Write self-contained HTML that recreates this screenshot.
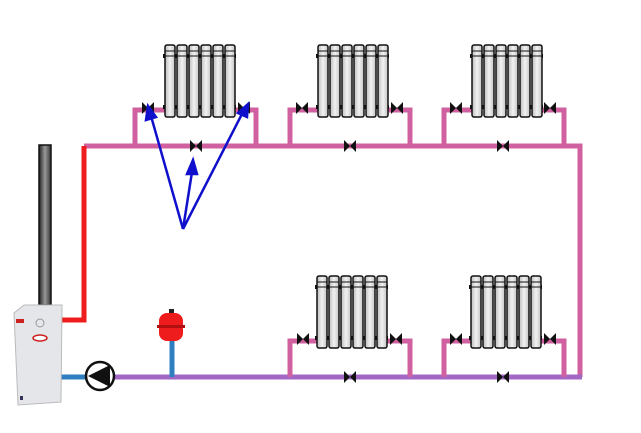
<!DOCTYPE html>
<html><head><style>body{margin:0;background:#fff}svg{display:block}</style></head>
<body>
<svg width="641" height="433" viewBox="0 0 641 433" xmlns="http://www.w3.org/2000/svg">
<defs>
<linearGradient id="sg" x1="0" x2="1"><stop offset="0" stop-color="#bbb"/><stop offset="0.5" stop-color="#f2f2f2"/><stop offset="1" stop-color="#c4c4c4"/></linearGradient>
<linearGradient id="ch" x1="0" x2="1"><stop offset="0" stop-color="#222"/><stop offset="0.5" stop-color="#999"/><stop offset="1" stop-color="#333"/></linearGradient>
<g id="sec"><rect x="0" y="0" width="10" height="72" rx="2" fill="url(#sg)" stroke="#111" stroke-width="1.5"/><line x1="0" y1="6" x2="10" y2="6" stroke="#111"/><line x1="0" y1="11" x2="10" y2="11" stroke="#111"/></g>
<g id="rad"><rect x="-2" y="9" width="73" height="4" fill="#111"/><rect x="-2" y="60" width="73" height="4" fill="#111"/>
<use href="#sec" x="0"/><use href="#sec" x="12"/><use href="#sec" x="24"/><use href="#sec" x="36"/><use href="#sec" x="48"/><use href="#sec" x="60"/></g>
<g id="v"><path d="M-6,-6 L6,6 L6,-6 L-6,6 Z" fill="#111"/></g>
</defs>
<path d="M84,146 H580 V377" fill="none" stroke="#d0609f" stroke-width="5"/>
<path d="M112,377 H582" fill="none" stroke="#a267c4" stroke-width="5"/>
<path d="M62,320 H84 V146" fill="none" stroke="#ee1c1c" stroke-width="5"/>
<path d="M58,377 H88" stroke="#2f7fc0" stroke-width="5"/>
<path d="M172,340 V377" stroke="#2f7fc0" stroke-width="5"/>
<g fill="none" stroke="#d0609f" stroke-width="5">
<path d="M135,146 V110 H165 M233,110 H256 V146"/>
<path d="M290,146 V110 H318 M386,110 H410 V146"/>
<path d="M444,146 V110 H472 M540,110 H564 V146"/>
<path d="M290,377 V341 H318 M386,341 H410 V377"/>
<path d="M444,377 V341 H472 M540,341 H564 V377"/>
</g>
<use href="#rad" x="165" y="45"/><use href="#rad" x="318" y="45"/><use href="#rad" x="472" y="45"/>
<use href="#rad" x="317" y="276"/><use href="#rad" x="471" y="276"/>
<use href="#v" x="148" y="108"/><use href="#v" x="244" y="108"/><use href="#v" x="196" y="146"/>
<use href="#v" x="302" y="108"/><use href="#v" x="397" y="108"/><use href="#v" x="350" y="146"/>
<use href="#v" x="456" y="108"/><use href="#v" x="550" y="108"/><use href="#v" x="503" y="146"/>
<use href="#v" x="303" y="339"/><use href="#v" x="396" y="339"/><use href="#v" x="350" y="377"/>
<use href="#v" x="456" y="339"/><use href="#v" x="550" y="339"/><use href="#v" x="503" y="377"/>
<g stroke="#1010cc" stroke-width="2.5" fill="#1010cc">
<line x1="183" y1="229" x2="151" y2="116"/><line x1="183" y1="229" x2="192" y2="172"/><line x1="183" y1="229" x2="243" y2="112"/>
<path d="M148,106 L146,120 L156,117 Z"/><path d="M193,160 L187,174 L197,174 Z"/><path d="M248,104 L238,113 L247,117 Z"/>
</g>
<rect x="39" y="145" width="12" height="160" fill="url(#ch)" stroke="#111" stroke-width="1.5"/>
<path d="M14,313 L24,305 L62,305 L61,402 L18,405 Z" fill="#e4e6ea" stroke="#bbb"/>
<rect x="16" y="319" width="8" height="4" fill="#c22"/>
<circle cx="40" cy="323" r="4" fill="none" stroke="#999"/>
<ellipse cx="40" cy="338" rx="7" ry="3" fill="#fff" stroke="#c22" stroke-width="1.5"/>
<rect x="20" y="396" width="3" height="4" fill="#335"/>
<circle cx="100" cy="376" r="14" fill="#fff" stroke="#111" stroke-width="2.5"/>
<path d="M88,376 L110,365 L110,387 Z" fill="#111"/>
<rect x="169" y="309" width="5" height="5" fill="#222"/>
<rect x="159" y="313" width="24" height="28" rx="8" fill="#ee1c1c"/>
<rect x="157" y="325" width="28" height="3" fill="#b01010"/>
</svg>
</body></html>
